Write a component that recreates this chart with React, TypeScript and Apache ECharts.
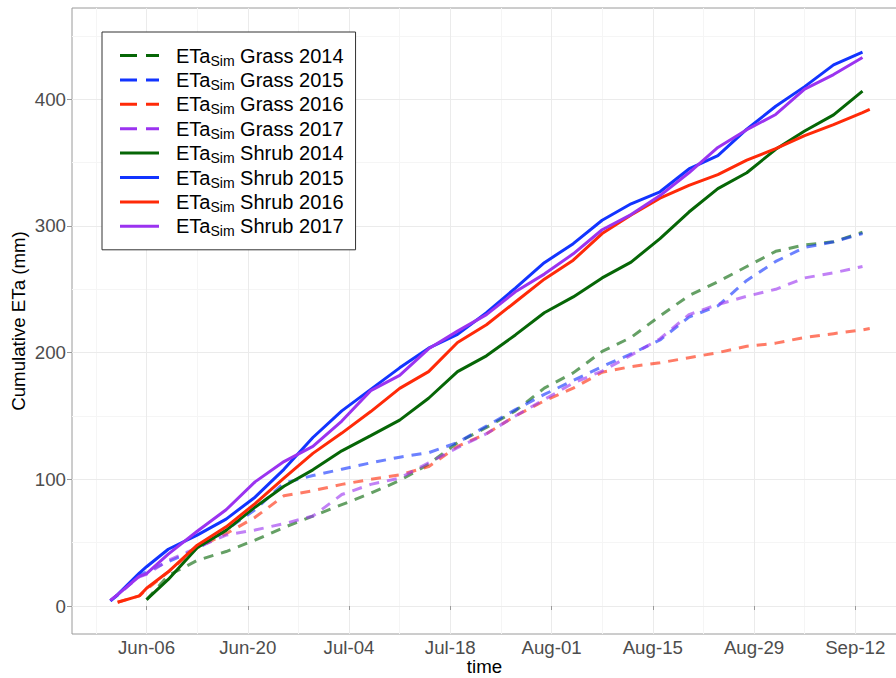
import React, { useEffect, useRef } from 'react';
import * as echarts from 'echarts';

const MONTHS = ['Jan', 'Feb', 'Mar', 'Apr', 'May', 'Jun', 'Jul', 'Aug', 'Sep', 'Oct', 'Nov', 'Dec'];
const MONTH_START = [0, 31, 59, 90, 120, 151, 181, 212, 243, 273, 304, 334];
function toDoy(label: string): number {
  const [m, d] = label.split('-');
  return MONTH_START[MONTHS.indexOf(m)] + Number(d);
}
function fromDoy(v: number): string {
  const day = Math.round(v);
  let m = 11;
  while (m > 0 && MONTH_START[m] >= day) m--;
  const d = day - MONTH_START[m];
  return MONTHS[m] + '-' + String(d).padStart(2, '0');
}

// x tick labels (major) and minor grid positions
const xTickLabels = ['Jun-06', 'Jun-20', 'Jul-04', 'Jul-18', 'Aug-01', 'Aug-15', 'Aug-29', 'Sep-12'];
const xMinorLabels = ['May-30', 'Jun-13', 'Jun-27', 'Jul-11', 'Jul-25', 'Aug-08', 'Aug-22', 'Sep-05'];
const yTicks = [0, 100, 200, 300, 400];
const yMinor = [50, 150, 250, 350, 450];

// sampled dates
const dates = ['Jun-01', 'Jun-02', 'Jun-05', 'Jun-06', 'Jun-09', 'Jun-13', 'Jun-17', 'Jun-21', 'Jun-25', 'Jun-29',
  'Jul-03', 'Jul-07', 'Jul-11', 'Jul-15', 'Jul-19', 'Jul-23', 'Jul-27', 'Jul-31', 'Aug-04', 'Aug-08',
  'Aug-12', 'Aug-16', 'Aug-20', 'Aug-24', 'Aug-28', 'Sep-01', 'Sep-05', 'Sep-09', 'Sep-13', 'Sep-14'];

const grass2014 = [null, null, null, 5, 24, 36, 43, 52, 62, 71, 80, 89, 99, 112, 129, 141, 154, 172, 184, 201, 212, 229, 245, 256, 268, 280, 285, 287.5, 295, null];
const grass2015 = [4, 8.5, 24, 27, 35, 45, 60, 76, 97, 103, 108, 113, 117.5, 121, 129, 142, 155, 167, 178, 189, 199, 210, 228, 237, 257, 272, 283, 287.5, 294, null];
const grass2016 = [null, 3, 8, 13, 27, 46, 57, 70, 87, 91, 96, 100, 103.5, 110, 126, 136, 150, 162, 172, 184.5, 189, 192, 196, 200, 205, 207.5, 212, 215, 218, 219];
const grass2017 = [4.5, 9, 23, 25, 36, 46, 56, 60, 65, 71, 88, 96, 101, 113, 125, 136, 150, 163, 176, 185.5, 198, 211, 230, 238, 244.5, 250, 259, 263, 268, null];
const shrub2014 = [null, null, null, 5, 21, 46, 59.7, 78, 94.5, 107.5, 122.5, 134.5, 146.7, 164, 185, 197.5, 214, 231.5, 244, 259, 271.5, 290, 311, 329.5, 342, 360.5, 375, 387.7, 406.5, null];
const shrub2015 = [4, 9, 26, 31, 44.8, 56, 68.6, 85.9, 107.9, 133, 154, 171, 188, 203.5, 214.4, 231.5, 251, 271, 286, 304.5, 317.5, 327, 345, 355.5, 376.4, 394.5, 410, 427.2, 437.3, null];
const shrub2016 = [null, 3, 8, 14, 27, 48, 62.5, 80.8, 101, 120.5, 136.5, 153.5, 171.8, 185, 208, 222, 240, 258, 273, 294, 308.7, 322, 332, 340.6, 352, 361, 371.3, 380, 389.5, 392];
const shrub2017 = [4.5, 9, 23.5, 25.5, 41, 59, 76, 98, 114, 126, 146, 170, 182, 203, 217, 230, 248, 262, 278, 297, 309, 324, 342, 362, 376, 388, 408, 419.5, 433, null];

const GREEN = '#066606';
const BLUE = '#1234ff';
const RED = '#ff2a08';
const PURPLE = '#9b33f0';

const seriesDefs = [
  { name: 'Grass 2014', values: grass2014, color: GREEN, dashed: true },
  { name: 'Grass 2015', values: grass2015, color: BLUE, dashed: true },
  { name: 'Grass 2016', values: grass2016, color: RED, dashed: true },
  { name: 'Grass 2017', values: grass2017, color: PURPLE, dashed: true },
  { name: 'Shrub 2014', values: shrub2014, color: GREEN, dashed: false },
  { name: 'Shrub 2015', values: shrub2015, color: BLUE, dashed: false },
  { name: 'Shrub 2016', values: shrub2016, color: RED, dashed: false },
  { name: 'Shrub 2017', values: shrub2017, color: PURPLE, dashed: false },
];

const FONT = '"Liberation Sans", Arial, sans-serif';
const BORDER = '#9a9a9a';
const X_MIN = 146.69;
const X_MAX = 260.77;
const Y_MIN = -22.1;
const Y_MAX = 472.06;

export default function App() {
  const ref = useRef<HTMLDivElement>(null);
  useEffect(() => {
    const chart = echarts.init(ref.current as HTMLDivElement, null, { renderer: 'svg' });
    const option: any = {
      animation: false,
      backgroundColor: '#ffffff',
      grid: {
        left: 72, top: 8, right: -1, bottom: 44,
        containLabel: false,
        outerBoundsMode: 'none',
        show: true, borderColor: BORDER, borderWidth: 1, backgroundColor: '#ffffff',
      },
      xAxis: [
        {
          type: 'value', min: X_MIN, max: X_MAX, position: 'bottom',
          name: 'time', nameLocation: 'middle', nameGap: 23, nameMoveOverlap: false,
          nameTextStyle: { fontSize: 18.7, lineHeight: 19, color: '#000', fontFamily: FONT },
          axisLine: { show: false },
          axisTick: { show: true, length: 4, lineStyle: { color: BORDER }, customValues: xTickLabels.map(toDoy) },
          axisLabel: {
            customValues: xTickLabels.map(toDoy), margin: 4,
            fontSize: 18.7, color: '#4d4d4d', fontFamily: FONT,
            formatter: (v: number) => fromDoy(v),
          },
          splitLine: { show: true, lineStyle: { color: '#ebebeb', width: 1 } },
          z: 2,
        },
        {
          type: 'value', min: X_MIN, max: X_MAX, position: 'top',
          axisLine: { show: false },
          axisTick: { show: false, customValues: xMinorLabels.map(toDoy) },
          axisLabel: { show: false, customValues: xMinorLabels.map(toDoy) },
          splitLine: { show: true, lineStyle: { color: '#f5f5f5', width: 1 } },
          z: 1,
        },
      ],
      yAxis: [
        {
          type: 'value', min: Y_MIN, max: Y_MAX, position: 'left',
          name: 'Cumulative ETa (mm)', nameLocation: 'middle', nameGap: 44, nameMoveOverlap: false,
          nameTextStyle: { fontSize: 18.7, lineHeight: 19, color: '#000', fontFamily: FONT },
          axisLine: { show: false },
          axisTick: { show: true, length: 5, lineStyle: { color: BORDER }, customValues: yTicks },
          axisLabel: { customValues: yTicks, margin: 6, fontSize: 18.7, color: '#4d4d4d', fontFamily: FONT },
          splitLine: { show: true, lineStyle: { color: '#ebebeb', width: 1 } },
          z: 2,
        },
        {
          type: 'value', min: Y_MIN, max: Y_MAX, position: 'right',
          axisLine: { show: false },
          axisTick: { show: false, customValues: yMinor },
          axisLabel: { show: false, customValues: yMinor },
          splitLine: { show: true, lineStyle: { color: '#f5f5f5', width: 1 } },
          z: 1,
        },
      ],
      legend: {
        orient: 'vertical', left: 102, top: 32,
        padding: [11.5, 12, 11.5, 16.5],
        borderColor: '#333', borderWidth: 1, backgroundColor: '#ffffff',
        itemWidth: 39, itemHeight: 14, itemGap: 0.4,
        selectedMode: false,
        itemStyle: { opacity: 0 },
        lineStyle: { opacity: 1, width: 3 },
        formatter: (name: string) => 'ETa{sub|Sim} ' + name,
        textStyle: {
          fontSize: 20, color: '#000', fontFamily: FONT, lineHeight: 24, padding: [0, 0, 0, 12],
          rich: {
            sub: { fontSize: 14, lineHeight: 14, padding: [10, 0, 0, 0], color: '#000', fontFamily: FONT },
          },
        },
        data: seriesDefs.map((s) => ({
          name: s.name,
          itemStyle: { opacity: 0 },
          lineStyle: s.dashed ? { type: [17, 9], opacity: 1, width: 3 } : { opacity: 1, width: 3 },
        })),
      },
      series: seriesDefs.map((s) => ({
        type: 'line',
        name: s.name,
        xAxisIndex: 0,
        yAxisIndex: 0,
        showSymbol: false,
        symbol: 'none',
        silent: true,
        data: dates
          .map((d, i) => (s.values[i] == null ? null : [toDoy(d), s.values[i]]))
          .filter((p) => p !== null),
        itemStyle: { color: s.color },
        lineStyle: {
          color: s.color,
          width: 3,
          type: s.dashed ? [10, 8] : 'solid',
          opacity: s.dashed ? 0.62 : 1,
        },
        emphasis: { disabled: true },
      })),
    };
    chart.setOption(option);
    return () => chart.dispose();
  }, []);
  return (
    <div
      ref={ref}
      style={{ position: 'absolute', left: 0, top: 0, width: 896, height: 678, background: '#fff' }}
    />
  );
}
